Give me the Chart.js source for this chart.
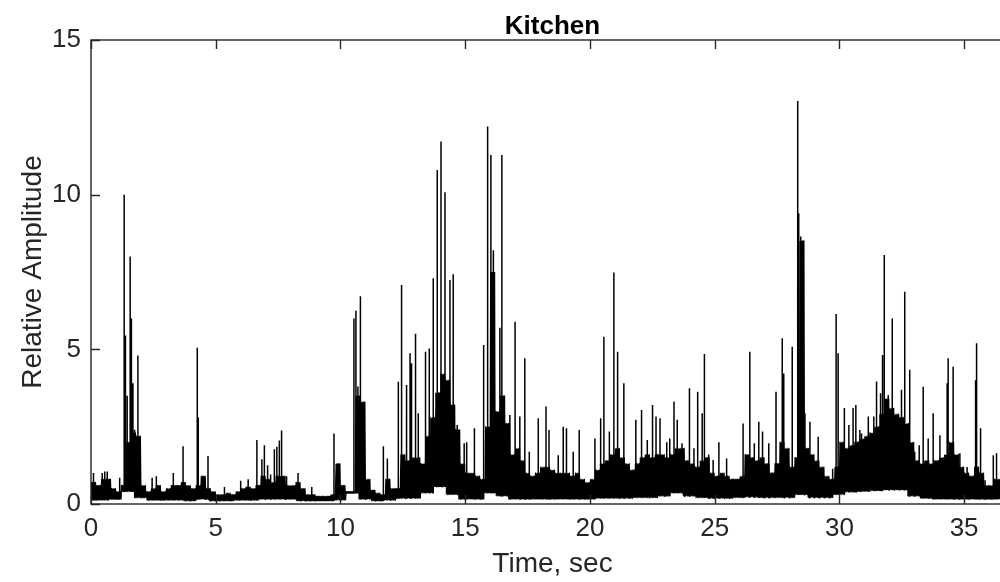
<!DOCTYPE html>
<html>
<head>
<meta charset="utf-8">
<title>Kitchen</title>
<script src="https://cdn.jsdelivr.net/npm/chart.js@4/dist/chart.umd.min.js"></script>
<style>
  html, body { margin: 0; padding: 0; background: #fff; overflow: hidden; }
  #wrap { width: 1000px; height: 582px; overflow: hidden; }
</style>
</head>
<body>
<div id="wrap"><canvas id="kitchenChart" width="1060" height="582"></canvas></div>
<script>
// sampling of the dense part of the trace (seconds)
const bodyStep = 0.2;
const floorStep = 0.5;

// top of the dense band, one value every 0.2 s from 0 to 37 s
const bodyTop = [
  0.7, 0.6, 0.8, 0.8, 0.5, 0.4, 0.6, 2.0, 2.3, 2.2,
  0.6, 0.4, 0.5, 0.6, 0.4, 0.5, 0.6, 0.6, 0.7, 0.6,
  0.5, 0.6, 0.9, 0.5, 0.4, 0.3, 0.3, 0.35, 0.3, 0.4,
  0.5, 0.55, 0.5, 0.6, 0.9, 0.8, 0.7, 0.9, 0.9, 0.6,
  0.6, 0.7, 0.5, 0.3, 0.3, 0.25, 0.25, 0.25, 0.3, 1.3,
  0.6, 0.4, 0.4, 3.5, 3.3, 0.8, 0.45, 0.35, 0.3, 0.8,
  0.5, 0.5, 1.6, 1.4, 1.5, 1.5, 1.3, 2.2, 2.8, 3.6,
  4.2, 4.0, 3.2, 2.4, 1.3, 1.0, 1.0, 0.9, 0.8, 2.5,
  7.5, 3.0, 3.5, 2.6, 1.6, 1.8, 1.4, 1.0, 0.9, 1.0,
  1.2, 1.2, 1.1, 1.0, 1.0, 1.0, 0.9, 1.0, 0.8, 0.7,
  0.8, 1.1, 1.3, 1.4, 1.6, 1.8, 1.5, 1.3, 1.1, 1.3,
  1.5, 1.6, 1.5, 1.6, 1.6, 1.5, 1.6, 1.8, 1.8, 1.4,
  1.3, 1.2, 1.4, 1.5, 1.0, 0.9, 1.0, 0.9, 0.8, 0.8,
  0.9, 1.6, 1.5, 1.4, 1.5, 1.3, 1.0, 1.3, 2.0, 1.8,
  1.2, 1.5, 8.5, 1.8, 1.6, 1.4, 1.2, 0.9, 0.8, 1.2,
  2.0, 1.8, 1.9, 2.0, 2.1, 2.2, 2.3, 2.5, 2.9, 3.4,
  3.1, 2.9, 2.8, 2.6, 2.0, 1.4, 1.3, 1.4, 1.3, 1.4,
  1.5, 1.6, 2.0, 1.6, 1.2, 1.0, 0.9, 1.2, 1.0, 0.6,
  0.6, 0.8, 0.8, 0.7, 0.6, 0.6
];

// bottom of the dense band, one value every 0.5 s from 0 to 37 s
const floorLow = [
  0.12, 0.12, 0.15, 0.4, 0.2, 0.12, 0.12, 0.12, 0.1, 0.15,
  0.1, 0.1, 0.12, 0.12, 0.15, 0.15, 0.15, 0.1, 0.1, 0.1,
  0.12, 0.35, 0.15, 0.1, 0.12, 0.18, 0.18, 0.35, 0.55, 0.3,
  0.15, 0.15, 0.35, 0.25, 0.15, 0.15, 0.15, 0.15, 0.15, 0.15,
  0.15, 0.18, 0.18, 0.18, 0.2, 0.2, 0.25, 0.35, 0.25, 0.2,
  0.18, 0.18, 0.2, 0.22, 0.2, 0.2, 0.2, 0.3, 0.2, 0.2,
  0.3, 0.38, 0.4, 0.42, 0.45, 0.45, 0.25, 0.18, 0.15, 0.15,
  0.15, 0.15, 0.15, 0.15, 0.15
];

// isolated peaks above the band: time (s) and amplitude
const spikeTimes = [
  0.1, 0.45, 0.55, 0.65, 1.15, 1.33, 1.38, 1.45, 1.57, 1.62,
  1.68, 1.75, 1.88, 2.45, 2.62, 3.3, 3.69, 4.26, 4.3, 4.69,
  5.35, 6.0, 6.3, 6.65, 6.85, 6.95, 7.08, 7.2, 7.35, 7.45,
  7.55, 7.64, 7.84, 8.3, 8.85, 9.74, 10.54, 10.62, 10.7, 10.8,
  11.72, 11.88, 12.32, 12.45, 12.65, 12.79, 12.85, 13.01, 13.12, 13.41,
  13.56, 13.72, 13.88, 14.03, 14.19, 14.39, 14.52, 14.68, 14.96, 15.06,
  15.37, 15.74, 15.9, 16.03, 16.13, 16.39, 16.47, 16.79, 17.0, 17.19,
  17.39, 17.57, 17.93, 18.24, 18.36, 18.73, 18.93, 19.06, 19.33, 19.57,
  20.2, 20.43, 20.56, 20.78, 20.96, 21.11, 21.36, 21.84, 22.07, 22.3,
  22.51, 22.65, 22.81, 23.08, 23.2, 23.37, 23.5, 23.69, 23.99, 24.17,
  24.32, 24.5, 24.59, 24.76, 24.94, 25.17, 25.48, 26.14, 26.41, 26.59,
  26.77, 26.92, 27.17, 27.46, 27.71, 27.77, 28.11, 28.33, 28.37, 28.45,
  28.62, 28.82, 29.15, 29.42, 29.73, 29.87, 29.95, 30.2, 30.38, 30.55,
  30.66, 30.82, 30.89, 31.16, 31.38, 31.49, 31.65, 31.73, 31.8, 31.96,
  32.12, 32.32, 32.49, 32.62, 32.82, 33.02, 33.2, 33.36, 33.56, 33.76,
  34.03, 34.32, 34.36, 34.56, 34.83, 35.12, 35.46, 35.5, 35.66, 35.84,
  36.17, 36.3
];
const spikeTops = [
  1.0, 1.0, 1.05, 1.05, 0.85, 10.0, 5.45, 3.5, 8.0, 6.0,
  3.9, 2.4, 4.8, 0.85, 0.9, 1.0, 1.87, 5.05, 2.8, 1.55,
  0.55, 0.75, 0.8, 2.07, 1.45, 1.9, 1.25, 0.95, 1.77, 1.85,
  2.05, 2.38, 0.9, 1.0, 0.55, 2.28, 6.0, 6.25, 3.8, 6.72,
  1.87, 1.47, 3.95, 7.08, 3.85, 4.87, 4.55, 5.5, 2.93, 4.92,
  5.03, 7.3, 10.8, 11.72, 10.08, 7.24, 7.43, 2.55, 1.96, 2.0,
  2.45, 5.14, 12.2, 11.28, 8.2, 5.7, 11.28, 2.88, 5.89, 2.83,
  4.71, 1.69, 2.77, 3.15, 2.39, 1.58, 2.5, 2.45, 1.69, 2.39,
  2.12, 2.77, 5.41, 2.34, 7.48, 4.92, 3.9, 2.72, 3.04, 2.07,
  3.2, 2.83, 2.77, 2.0, 2.12, 3.31, 2.72, 1.96, 3.74, 1.8,
  3.63, 2.93, 4.85, 1.6, 1.42, 2.0, 1.47, 2.6, 4.92, 1.96,
  2.66, 2.34, 1.96, 3.63, 5.36, 4.22, 5.08, 13.03, 9.4, 8.65,
  2.93, 2.66, 2.17, 0.82, 1.14, 6.14, 4.87, 3.1, 2.55, 3.1,
  3.2, 2.39, 2.28, 2.83, 2.83, 3.96, 3.58, 4.82, 8.05, 3.52,
  6.0, 2.83, 3.69, 6.86, 4.34, 1.69, 1.9, 3.79, 2.12, 2.93,
  2.22, 3.9, 4.71, 4.44, 1.64, 1.2, 4.0, 5.2, 2.45, 0.77,
  1.58, 1.64
];

// axis ticks
const xTicks = [0, 5, 10, 15, 20, 25, 30, 35];
const yTicks = [0, 5, 10, 15];

const axisColor = '#262626';
const fontFamily = '"Liberation Sans", Arial, Helvetica, sans-serif';

// the band is traced as a tight zigzag between its bottom and top in each bin,
// 8 vertices per bin so the strokes overlap into a solid mass
const floorAt = t => floorLow[Math.min(floorLow.length - 1, Math.round(t / floorStep))];
const bandPoints = [];
bodyTop.forEach((top, i) => {
  const t = i * bodyStep;
  const q = bodyStep / 8;
  for (let k = 0; k < 8; k++) {
    const x = t + k * q;
    bandPoints.push({ x, y: k % 2 ? top : floorAt(x) });
  }
});

// each peak is a vertical stroke rising from the bottom of the band
const spikePoints = [];
spikeTimes.forEach((t, i) => {
  spikePoints.push({ x: t, y: floorAt(t) }, { x: t, y: spikeTops[i] }, { x: t, y: null });
});

// box round the plot with inward ticks
const boxPlugin = {
  id: 'box',
  afterDatasetsDraw(chart) {
    const { ctx, chartArea: a, scales } = chart;
    const len = 9;
    ctx.save();
    ctx.strokeStyle = axisColor;
    ctx.lineWidth = 1.4;
    ctx.strokeRect(a.left, a.top, a.right - a.left, a.bottom - a.top);
    ctx.beginPath();
    xTicks.forEach(v => {
      const px = Math.round(scales.x.getPixelForValue(v)) + 0.5;
      ctx.moveTo(px, a.bottom); ctx.lineTo(px, a.bottom - len);
      ctx.moveTo(px, a.top); ctx.lineTo(px, a.top + len);
    });
    yTicks.forEach(v => {
      const py = Math.round(scales.y.getPixelForValue(v)) + 0.5;
      ctx.moveTo(a.left, py); ctx.lineTo(a.left + len, py);
      ctx.moveTo(a.right, py); ctx.lineTo(a.right - len, py);
    });
    ctx.stroke();
    ctx.restore();
  }
};

new Chart(document.getElementById('kitchenChart'), {
  type: 'line',
  data: {
    datasets: [
      {
        label: 'band',
        data: bandPoints,
        borderColor: '#000',
        borderWidth: 1.4,
        borderJoinStyle: 'bevel',
        // a tiny tension keeps every vertex instead of the per-pixel fast path
        tension: 0.001,
        pointRadius: 0,
        fill: false
      },
      {
        label: 'peaks',
        data: spikePoints,
        borderColor: '#000',
        borderWidth: 1.5,
        pointRadius: 0,
        spanGaps: false,
        fill: false
      }
    ]
  },
  options: {
    responsive: false,
    animation: false,
    layout: { padding: { left: 0, right: 46, top: 0, bottom: 0 } },
    plugins: {
      legend: { display: false },
      tooltip: { enabled: false },
      title: {
        display: true,
        text: 'Kitchen',
        fullSize: false,
        color: '#000',
        font: { family: fontFamily, size: 26, weight: 'bold', lineHeight: 1.0 },
        padding: { top: 13.5, bottom: 0.5 }
      }
    },
    scales: {
      x: {
        type: 'linear',
        min: 0,
        max: 37,
        grid: { display: false, drawTicks: false, tickLength: 0 },
        border: { display: false },
        afterBuildTicks: s => { s.ticks = xTicks.map(v => ({ value: v })); },
        afterFit: s => { s.height = 78; },
        ticks: {
          color: axisColor,
          padding: 9,
          maxRotation: 0,
          font: { family: fontFamily, size: 26 }
        },
        title: {
          display: true,
          text: 'Time, sec',
          color: axisColor,
          padding: { top: 0 },
          font: { family: fontFamily, size: 28, lineHeight: 1 }
        }
      },
      y: {
        min: 0,
        max: 15,
        grid: { display: false, drawTicks: false, tickLength: 0 },
        border: { display: false },
        afterBuildTicks: s => { s.ticks = yTicks.map(v => ({ value: v })); },
        afterFit: s => { s.width = 91; },
        ticks: {
          color: axisColor,
          padding: 10,
          font: { family: fontFamily, size: 26 }
        },
        title: {
          display: true,
          text: 'Relative Amplitude',
          color: axisColor,
          padding: { top: 16 },
          font: { family: fontFamily, size: 28, lineHeight: 1.2 }
        }
      }
    }
  },
  plugins: [boxPlugin]
});
</script>
</body>
</html>
